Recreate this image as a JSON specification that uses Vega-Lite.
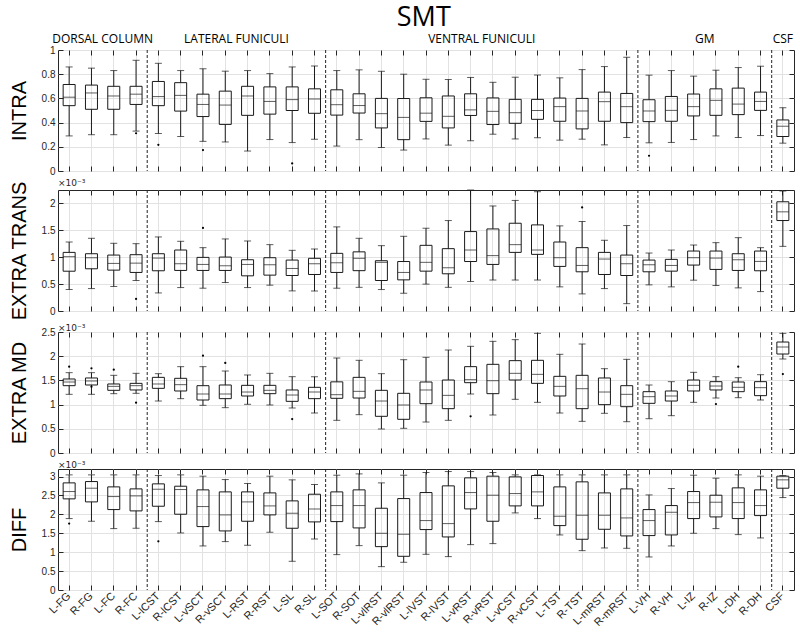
{
"$schema": "https://vega.github.io/schema/vega-lite/v6.json",
"background": "white",
"padding": {"left": 8, "top": 3, "right": 0, "bottom": 0},
"title": {"text": "SMT", "anchor": "middle", "fontSize": 27, "font": "Open Sans", "fontWeight": "normal", "color": "#000", "dx": 22, "offset": 1},
"spacing": 1,
"datasets": {
"boxes": [
{"measure":"INTRA","region":"L-FG","lower":0.29,"q1":0.54,"median":0.61,"q3":0.715,"upper":0.86},
{"measure":"INTRA","region":"R-FG","lower":0.30,"q1":0.51,"median":0.645,"q3":0.71,"upper":0.85},
{"measure":"INTRA","region":"L-FC","lower":0.30,"q1":0.51,"median":0.62,"q3":0.70,"upper":0.83},
{"measure":"INTRA","region":"R-FC","lower":0.33,"q1":0.55,"median":0.635,"q3":0.70,"upper":0.915},
{"measure":"INTRA","region":"L-lCST","lower":0.31,"q1":0.54,"median":0.615,"q3":0.74,"upper":0.89},
{"measure":"INTRA","region":"R-lCST","lower":0.285,"q1":0.495,"median":0.625,"q3":0.73,"upper":0.83},
{"measure":"INTRA","region":"L-vSCT","lower":0.245,"q1":0.45,"median":0.55,"q3":0.635,"upper":0.845},
{"measure":"INTRA","region":"R-vSCT","lower":0.24,"q1":0.385,"median":0.545,"q3":0.66,"upper":0.825},
{"measure":"INTRA","region":"L-RST","lower":0.165,"q1":0.46,"median":0.62,"q3":0.70,"upper":0.83},
{"measure":"INTRA","region":"R-RST","lower":0.26,"q1":0.47,"median":0.575,"q3":0.695,"upper":0.805},
{"measure":"INTRA","region":"L-SL","lower":0.235,"q1":0.50,"median":0.59,"q3":0.695,"upper":0.86},
{"measure":"INTRA","region":"R-SL","lower":0.263,"q1":0.477,"median":0.595,"q3":0.679,"upper":0.868},
{"measure":"INTRA","region":"L-SOT","lower":0.206,"q1":0.462,"median":0.548,"q3":0.671,"upper":0.83},
{"measure":"INTRA","region":"R-SOT","lower":0.259,"q1":0.479,"median":0.541,"q3":0.638,"upper":0.836},
{"measure":"INTRA","region":"L-vlRST","lower":0.194,"q1":0.356,"median":0.474,"q3":0.60,"upper":0.824},
{"measure":"INTRA","region":"R-vlRST","lower":0.173,"q1":0.259,"median":0.443,"q3":0.599,"upper":0.80},
{"measure":"INTRA","region":"L-lVST","lower":0.265,"q1":0.41,"median":0.478,"q3":0.605,"upper":0.758},
{"measure":"INTRA","region":"R-lVST","lower":0.214,"q1":0.356,"median":0.452,"q3":0.62,"upper":0.756},
{"measure":"INTRA","region":"L-vRST","lower":0.25,"q1":0.459,"median":0.505,"q3":0.638,"upper":0.773},
{"measure":"INTRA","region":"R-vRST","lower":0.304,"q1":0.384,"median":0.493,"q3":0.604,"upper":0.733},
{"measure":"INTRA","region":"L-vCST","lower":0.265,"q1":0.394,"median":0.482,"q3":0.592,"upper":0.775},
{"measure":"INTRA","region":"R-vCST","lower":0.275,"q1":0.427,"median":0.50,"q3":0.592,"upper":0.793},
{"measure":"INTRA","region":"L-TST","lower":0.255,"q1":0.411,"median":0.532,"q3":0.603,"upper":0.77},
{"measure":"INTRA","region":"R-TST","lower":0.263,"q1":0.348,"median":0.496,"q3":0.60,"upper":0.838},
{"measure":"INTRA","region":"L-mRST","lower":0.216,"q1":0.411,"median":0.573,"q3":0.652,"upper":0.863},
{"measure":"INTRA","region":"R-mRST","lower":0.277,"q1":0.40,"median":0.532,"q3":0.641,"upper":0.94},
{"measure":"INTRA","region":"L-VH","lower":0.233,"q1":0.408,"median":0.496,"q3":0.589,"upper":0.792},
{"measure":"INTRA","region":"R-VH","lower":0.236,"q1":0.411,"median":0.501,"q3":0.616,"upper":0.83},
{"measure":"INTRA","region":"L-IZ","lower":0.26,"q1":0.455,"median":0.532,"q3":0.636,"upper":0.784},
{"measure":"INTRA","region":"R-IZ","lower":0.29,"q1":0.46,"median":0.584,"q3":0.679,"upper":0.833},
{"measure":"INTRA","region":"L-DH","lower":0.277,"q1":0.466,"median":0.553,"q3":0.685,"upper":0.855},
{"measure":"INTRA","region":"R-DH","lower":0.293,"q1":0.501,"median":0.575,"q3":0.652,"upper":0.866},
{"measure":"INTRA","region":"CSF","lower":0.23,"q1":0.285,"median":0.37,"q3":0.422,"upper":0.523},
{"measure":"TRANS","region":"L-FG","lower":0.40,"q1":0.74,"median":1.01,"q3":1.09,"upper":1.283},
{"measure":"TRANS","region":"R-FG","lower":0.417,"q1":0.785,"median":0.99,"q3":1.065,"upper":1.352},
{"measure":"TRANS","region":"L-FC","lower":0.455,"q1":0.76,"median":0.885,"q3":1.04,"upper":1.259},
{"measure":"TRANS","region":"R-FC","lower":0.567,"q1":0.717,"median":0.89,"q3":1.047,"upper":1.252},
{"measure":"TRANS","region":"L-lCST","lower":0.336,"q1":0.748,"median":0.984,"q3":1.065,"upper":1.377},
{"measure":"TRANS","region":"R-lCST","lower":0.436,"q1":0.754,"median":0.879,"q3":1.134,"upper":1.296},
{"measure":"TRANS","region":"L-vSCT","lower":0.424,"q1":0.754,"median":0.866,"q3":0.997,"upper":1.178},
{"measure":"TRANS","region":"R-vSCT","lower":0.53,"q1":0.754,"median":0.841,"q3":1.003,"upper":1.34},
{"measure":"TRANS","region":"L-RST","lower":0.436,"q1":0.654,"median":0.866,"q3":0.953,"upper":1.302},
{"measure":"TRANS","region":"R-RST","lower":0.48,"q1":0.667,"median":0.86,"q3":0.991,"upper":1.234},
{"measure":"TRANS","region":"L-SL","lower":0.374,"q1":0.66,"median":0.791,"q3":0.947,"upper":1.128},
{"measure":"TRANS","region":"R-SL","lower":0.37,"q1":0.679,"median":0.879,"q3":0.98,"upper":1.153},
{"measure":"TRANS","region":"L-SOT","lower":0.424,"q1":0.717,"median":0.897,"q3":1.072,"upper":1.564},
{"measure":"TRANS","region":"R-SOT","lower":0.44,"q1":0.75,"median":0.98,"q3":1.10,"upper":1.352},
{"measure":"TRANS","region":"L-vlRST","lower":0.399,"q1":0.567,"median":0.905,"q3":0.935,"upper":1.215},
{"measure":"TRANS","region":"R-vlRST","lower":0.33,"q1":0.579,"median":0.717,"q3":0.92,"upper":1.389},
{"measure":"TRANS","region":"L-lVST","lower":0.50,"q1":0.741,"median":0.905,"q3":1.221,"upper":1.539},
{"measure":"TRANS","region":"R-lVST","lower":0.44,"q1":0.692,"median":0.804,"q3":1.159,"upper":1.682},
{"measure":"TRANS","region":"L-vRST","lower":0.548,"q1":0.92,"median":1.134,"q3":1.477,"upper":2.25},
{"measure":"TRANS","region":"R-vRST","lower":0.576,"q1":0.866,"median":1.03,"q3":1.526,"upper":1.953},
{"measure":"TRANS","region":"L-vCST","lower":0.576,"q1":1.09,"median":1.234,"q3":1.632,"upper":2.056},
{"measure":"TRANS","region":"R-vCST","lower":0.576,"q1":1.053,"median":1.134,"q3":1.601,"upper":2.218},
{"measure":"TRANS","region":"L-TST","lower":0.449,"q1":0.829,"median":0.991,"q3":1.283,"upper":1.583},
{"measure":"TRANS","region":"R-TST","lower":0.318,"q1":0.729,"median":0.847,"q3":1.178,"upper":1.664},
{"measure":"TRANS","region":"L-mRST","lower":0.417,"q1":0.679,"median":0.966,"q3":1.09,"upper":1.315},
{"measure":"TRANS","region":"R-mRST","lower":0.137,"q1":0.66,"median":0.879,"q3":1.04,"upper":1.589},
{"measure":"TRANS","region":"L-VH","lower":0.486,"q1":0.729,"median":0.86,"q3":0.947,"upper":1.078},
{"measure":"TRANS","region":"R-VH","lower":0.449,"q1":0.741,"median":0.847,"q3":0.96,"upper":1.134},
{"measure":"TRANS","region":"L-IZ","lower":0.573,"q1":0.854,"median":0.991,"q3":1.115,"upper":1.227},
{"measure":"TRANS","region":"R-IZ","lower":0.474,"q1":0.773,"median":0.984,"q3":1.115,"upper":1.271},
{"measure":"TRANS","region":"L-DH","lower":0.43,"q1":0.754,"median":0.953,"q3":1.065,"upper":1.364},
{"measure":"TRANS","region":"R-DH","lower":0.361,"q1":0.748,"median":0.922,"q3":1.115,"upper":1.178},
{"measure":"TRANS","region":"CSF","lower":1.202,"q1":1.682,"median":1.844,"q3":2.031,"upper":2.231},
{"measure":"MD","region":"L-FG","lower":1.212,"q1":1.391,"median":1.467,"q3":1.529,"upper":1.66},
{"measure":"MD","region":"R-FG","lower":1.212,"q1":1.405,"median":1.488,"q3":1.55,"upper":1.66},
{"measure":"MD","region":"L-FC","lower":1.226,"q1":1.295,"median":1.377,"q3":1.426,"upper":1.605},
{"measure":"MD","region":"R-FC","lower":1.233,"q1":1.302,"median":1.391,"q3":1.439,"upper":1.646},
{"measure":"MD","region":"L-lCST","lower":1.074,"q1":1.336,"median":1.426,"q3":1.563,"upper":1.639},
{"measure":"MD","region":"R-lCST","lower":1.123,"q1":1.281,"median":1.412,"q3":1.543,"upper":1.784},
{"measure":"MD","region":"L-vSCT","lower":0.985,"q1":1.095,"median":1.219,"q3":1.391,"upper":1.784},
{"measure":"MD","region":"R-vSCT","lower":0.937,"q1":1.123,"median":1.219,"q3":1.405,"upper":1.694},
{"measure":"MD","region":"L-RST","lower":1.006,"q1":1.178,"median":1.26,"q3":1.398,"upper":1.612},
{"measure":"MD","region":"R-RST","lower":0.992,"q1":1.226,"median":1.295,"q3":1.398,"upper":1.646},
{"measure":"MD","region":"L-SL","lower":0.93,"q1":1.067,"median":1.198,"q3":1.302,"upper":1.577},
{"measure":"MD","region":"R-SL","lower":0.826,"q1":1.123,"median":1.26,"q3":1.357,"upper":1.577},
{"measure":"MD","region":"L-SOT","lower":0.675,"q1":1.13,"median":1.205,"q3":1.47,"upper":1.963},
{"measure":"MD","region":"R-SOT","lower":0.792,"q1":1.136,"median":1.274,"q3":1.563,"upper":1.915},
{"measure":"MD","region":"L-vlRST","lower":0.496,"q1":0.758,"median":1.074,"q3":1.295,"upper":1.639},
{"measure":"MD","region":"R-vlRST","lower":0.51,"q1":0.696,"median":0.992,"q3":1.233,"upper":1.928},
{"measure":"MD","region":"L-lVST","lower":0.64,"q1":1.019,"median":1.302,"q3":1.467,"upper":1.977},
{"measure":"MD","region":"R-lVST","lower":0.675,"q1":0.916,"median":1.191,"q3":1.508,"upper":2.128},
{"measure":"MD","region":"L-vRST","lower":1.219,"q1":1.453,"median":1.515,"q3":1.784,"upper":2.204},
{"measure":"MD","region":"R-vRST","lower":0.785,"q1":1.226,"median":1.494,"q3":1.832,"upper":2.307},
{"measure":"MD","region":"L-vCST","lower":1.109,"q1":1.508,"median":1.646,"q3":1.908,"upper":2.342},
{"measure":"MD","region":"R-vCST","lower":1.047,"q1":1.439,"median":1.625,"q3":1.915,"upper":2.472},
{"measure":"MD","region":"L-TST","lower":0.826,"q1":1.178,"median":1.377,"q3":1.584,"upper":2.039},
{"measure":"MD","region":"R-TST","lower":0.654,"q1":0.916,"median":1.329,"q3":1.605,"upper":2.252},
{"measure":"MD","region":"L-mRST","lower":0.82,"q1":0.999,"median":1.26,"q3":1.55,"upper":1.742},
{"measure":"MD","region":"R-mRST","lower":0.647,"q1":0.957,"median":1.212,"q3":1.391,"upper":1.935},
{"measure":"MD","region":"L-VH","lower":0.709,"q1":1.026,"median":1.164,"q3":1.267,"upper":1.405},
{"measure":"MD","region":"R-VH","lower":0.771,"q1":1.074,"median":1.178,"q3":1.281,"upper":1.474},
{"measure":"MD","region":"L-IZ","lower":1.047,"q1":1.281,"median":1.398,"q3":1.508,"upper":1.667},
{"measure":"MD","region":"R-IZ","lower":1.136,"q1":1.302,"median":1.384,"q3":1.474,"upper":1.577},
{"measure":"MD","region":"L-DH","lower":1.143,"q1":1.267,"median":1.357,"q3":1.467,"upper":1.556},
{"measure":"MD","region":"R-DH","lower":1.095,"q1":1.185,"median":1.35,"q3":1.474,"upper":1.618},
{"measure":"MD","region":"CSF","lower":1.942,"q1":2.045,"median":2.19,"q3":2.293,"upper":2.472},
{"measure":"DIFF","region":"L-FG","lower":1.889,"q1":2.41,"median":2.604,"q3":2.833,"upper":3.045},
{"measure":"DIFF","region":"R-FG","lower":1.818,"q1":2.33,"median":2.692,"q3":2.868,"upper":3.045},
{"measure":"DIFF","region":"L-FC","lower":1.624,"q1":2.127,"median":2.471,"q3":2.727,"upper":3.045},
{"measure":"DIFF","region":"R-FC","lower":1.633,"q1":2.092,"median":2.489,"q3":2.674,"upper":3.045},
{"measure":"DIFF","region":"L-lCST","lower":1.809,"q1":2.215,"median":2.665,"q3":2.807,"upper":3.027},
{"measure":"DIFF","region":"R-lCST","lower":1.509,"q1":2.004,"median":2.657,"q3":2.745,"upper":3.045},
{"measure":"DIFF","region":"L-vSCT","lower":1.165,"q1":1.677,"median":2.207,"q3":2.648,"upper":3.01},
{"measure":"DIFF","region":"R-vSCT","lower":1.28,"q1":1.562,"median":1.986,"q3":2.595,"upper":2.921},
{"measure":"DIFF","region":"L-RST","lower":1.183,"q1":1.818,"median":2.33,"q3":2.595,"upper":2.816},
{"measure":"DIFF","region":"R-RST","lower":1.527,"q1":1.986,"median":2.224,"q3":2.568,"upper":3.01},
{"measure":"DIFF","region":"L-SL","lower":0.759,"q1":1.633,"median":2.03,"q3":2.357,"upper":2.913},
{"measure":"DIFF","region":"R-SL","lower":1.35,"q1":1.801,"median":2.145,"q3":2.533,"upper":2.789},
{"measure":"DIFF","region":"L-SOT","lower":0.936,"q1":1.809,"median":2.233,"q3":2.595,"upper":3.036},
{"measure":"DIFF","region":"R-SOT","lower":1.174,"q1":1.642,"median":2.233,"q3":2.648,"upper":3.071},
{"measure":"DIFF","region":"L-vlRST","lower":0.618,"q1":1.147,"median":1.5,"q3":2.162,"upper":2.833},
{"measure":"DIFF","region":"R-vlRST","lower":0.733,"q1":0.891,"median":1.474,"q3":2.418,"upper":3.036},
{"measure":"DIFF","region":"L-lVST","lower":0.944,"q1":1.598,"median":1.836,"q3":2.577,"upper":3.107},
{"measure":"DIFF","region":"R-lVST","lower":0.883,"q1":1.403,"median":1.756,"q3":2.754,"upper":3.133},
{"measure":"DIFF","region":"L-vRST","lower":1.2,"q1":2.145,"median":2.577,"q3":2.966,"upper":3.133},
{"measure":"DIFF","region":"R-vRST","lower":1.227,"q1":1.818,"median":2.507,"q3":3.01,"upper":3.107},
{"measure":"DIFF","region":"L-vCST","lower":2.039,"q1":2.224,"median":2.551,"q3":2.992,"upper":3.045},
{"measure":"DIFF","region":"R-vCST","lower":1.889,"q1":2.224,"median":2.595,"q3":3.027,"upper":3.045},
{"measure":"DIFF","region":"L-TST","lower":1.456,"q1":1.703,"median":1.951,"q3":2.727,"upper":3.045},
{"measure":"DIFF","region":"R-TST","lower":1.041,"q1":1.342,"median":1.977,"q3":2.86,"upper":3.045},
{"measure":"DIFF","region":"L-mRST","lower":1.112,"q1":1.606,"median":1.977,"q3":2.568,"upper":3.045},
{"measure":"DIFF","region":"R-mRST","lower":1.103,"q1":1.43,"median":1.906,"q3":2.674,"upper":3.045},
{"measure":"DIFF","region":"L-VH","lower":0.874,"q1":1.439,"median":1.836,"q3":2.127,"upper":2.515},
{"measure":"DIFF","region":"R-VH","lower":1.165,"q1":1.456,"median":2.056,"q3":2.233,"upper":2.683},
{"measure":"DIFF","region":"L-IZ","lower":1.5,"q1":1.889,"median":2.312,"q3":2.604,"upper":3.036},
{"measure":"DIFF","region":"R-IZ","lower":1.624,"q1":1.933,"median":2.321,"q3":2.507,"upper":2.957},
{"measure":"DIFF","region":"L-DH","lower":1.465,"q1":1.889,"median":2.312,"q3":2.701,"upper":3.045},
{"measure":"DIFF","region":"R-DH","lower":1.377,"q1":1.968,"median":2.233,"q3":2.648,"upper":3.01},
{"measure":"DIFF","region":"CSF","lower":2.445,"q1":2.692,"median":2.913,"q3":3.01,"upper":3.027}
],
"outliers": [
{"measure":"INTRA","region":"R-FC","value":0.312},
{"measure":"INTRA","region":"L-lCST","value":0.216},
{"measure":"INTRA","region":"L-vSCT","value":0.173},
{"measure":"INTRA","region":"L-SL","value":0.063},
{"measure":"INTRA","region":"L-VH","value":0.126},
{"measure":"TRANS","region":"R-FC","value":0.224},
{"measure":"TRANS","region":"L-vSCT","value":1.545},
{"measure":"TRANS","region":"R-TST","value":1.925},
{"measure":"MD","region":"L-FG","value":1.784},
{"measure":"MD","region":"R-FG","value":1.749},
{"measure":"MD","region":"R-FG","value":1.37},
{"measure":"MD","region":"L-FC","value":1.722},
{"measure":"MD","region":"R-FC","value":1.04},
{"measure":"MD","region":"L-vSCT","value":2.011},
{"measure":"MD","region":"R-vSCT","value":1.86},
{"measure":"MD","region":"L-SL","value":0.702},
{"measure":"MD","region":"L-vRST","value":0.758},
{"measure":"MD","region":"R-IZ","value":1.012},
{"measure":"MD","region":"L-DH","value":1.784},
{"measure":"MD","region":"CSF","value":1.632},
{"measure":"DIFF","region":"L-FG","value":1.756},
{"measure":"DIFF","region":"L-lCST","value":1.289}
],
"separators": [{"after":"R-FC"},{"after":"R-SL"},{"after":"R-mRST"},{"after":"R-DH"}],
"groups": [
{"group":"DORSAL COLUMN","anchor":"R-FG"},
{"group":"LATERAL FUNICULI","anchor":"R-vSCT"},
{"group":"VENTRAL FUNICULI","anchor":"L-vRST"},
{"group":"GM","anchor":"L-IZ"},
{"group":"CSF","anchor":"CSF"}
]
},
"vconcat": [
{
"width": 736, "height": 121,
"data": {"name": "boxes"},
"transform": [{"filter": "datum.measure === 'INTRA'"}],
"resolve": {"axis": {"x": "independent", "y": "independent"}},
"layer": [
{"mark": {"type": "rule", "color": "#1a1a1a"}, "encoding": {
 "x": {"field": "region", "type": "nominal", "bandPosition": 0.5, "scale": {"type": "band", "domain": ["L-FG","R-FG","L-FC","R-FC","L-lCST","R-lCST","L-vSCT","R-vSCT","L-RST","R-RST","L-SL","R-SL","L-SOT","R-SOT","L-vlRST","R-vlRST","L-lVST","R-lVST","L-vRST","R-vRST","L-vCST","R-vCST","L-TST","R-TST","L-mRST","R-mRST","L-VH","R-VH","L-IZ","R-IZ","L-DH","R-DH","CSF"], "paddingInner": 0, "paddingOuter": 0}, "axis": {"title": null, "labels": false, "labelPadding": 0, "grid": true, "bandPosition": 0.5}},
 "y": {"field": "lower", "type": "quantitative", "scale": {"domain": [0, 1], "nice": false, "zero": false}, "axis": {"values": [0, 0.2, 0.4, 0.6, 0.8, 1], "format": "~g", "title": "INTRA"}},
 "y2": {"field": "q1"}}},
{"mark": {"type": "rule", "color": "#1a1a1a"}, "encoding": {
 "x": {"field": "region", "type": "nominal", "bandPosition": 0.5, "axis": null},
 "y": {"field": "q3", "type": "quantitative", "axis": null}, "y2": {"field": "upper"}}},
{"mark": {"type": "bar", "width": 12, "fillOpacity": 0, "stroke": "#1a1a1a", "strokeWidth": 1}, "encoding": {
 "x": {"field": "region", "type": "nominal", "axis": null},
 "y": {"field": "q1", "type": "quantitative", "axis": null}, "y2": {"field": "q3"}}},
{"mark": {"type": "tick", "size": 12, "thickness": 1, "color": "#1a1a1a"}, "encoding": {
 "x": {"field": "region", "type": "nominal", "bandPosition": 0.5, "axis": null},
 "y": {"field": "median", "type": "quantitative", "axis": null}}},
{"mark": {"type": "tick", "size": 7, "thickness": 1, "color": "#1a1a1a"}, "encoding": {
 "x": {"field": "region", "type": "nominal", "bandPosition": 0.5, "axis": {"orient": "top", "labels": false, "labelPadding": 0, "grid": false, "title": null, "bandPosition": 0.5}},
 "y": {"field": "upper", "type": "quantitative", "axis": {"orient": "right", "labels": false, "labelPadding": 0, "grid": false, "title": null, "values": [0, 0.2, 0.4, 0.6, 0.8, 1]}}}},
{"mark": {"type": "tick", "size": 7, "thickness": 1, "color": "#1a1a1a"}, "encoding": {
 "x": {"field": "region", "type": "nominal", "bandPosition": 0.5, "axis": null},
 "y": {"field": "lower", "type": "quantitative", "axis": null}}},
{"data": {"name": "outliers"}, "transform": [{"filter": "datum.measure === 'INTRA'"}],
 "mark": {"type": "point", "filled": true, "size": 5, "color": "#000", "opacity": 1}, "encoding": {
 "x": {"field": "region", "type": "nominal", "bandPosition": 0.5, "axis": null},
 "y": {"field": "value", "type": "quantitative", "axis": null}}},
{"data": {"name": "separators"},
 "mark": {"type": "rule", "color": "#222", "strokeDash": [3, 2]}, "encoding": {
 "x": {"field": "after", "type": "nominal", "bandPosition": 1, "axis": null}}},
{"data": {"name": "groups"}, "transform": [{"filter": "datum.group !== 'CSF'"}],
 "mark": {"type": "text", "font": "Open Sans", "fontSize": 12, "color": "#000", "baseline": "alphabetic", "dy": -7},
 "encoding": {
 "x": {"field": "anchor", "type": "nominal", "bandPosition": 1, "axis": null},
 "y": {"datum": 1, "type": "quantitative", "axis": null},
 "text": {"field": "group"}}},
{"data": {"name": "groups"}, "transform": [{"filter": "datum.group === 'CSF'"}],
 "mark": {"type": "text", "font": "Open Sans", "fontSize": 12, "color": "#000", "baseline": "alphabetic", "dy": -7},
 "encoding": {
 "x": {"field": "anchor", "type": "nominal", "bandPosition": 0.5, "axis": null},
 "y": {"datum": 1, "type": "quantitative", "axis": null},
 "text": {"field": "group"}}}
]
},
{
"width": 736, "height": 121,
"title": {"text": "×10⁻³", "anchor": "start", "frame": "group", "fontSize": 9, "font": "DejaVu Sans", "fontWeight": "normal", "color": "#262626", "offset": -8},
"data": {"name": "boxes"},
"transform": [{"filter": "datum.measure === 'TRANS'"}],
"resolve": {"axis": {"x": "independent", "y": "independent"}},
"layer": [
{"mark": {"type": "rule", "color": "#1a1a1a"}, "encoding": {
 "x": {"field": "region", "type": "nominal", "bandPosition": 0.5, "scale": {"type": "band", "domain": ["L-FG","R-FG","L-FC","R-FC","L-lCST","R-lCST","L-vSCT","R-vSCT","L-RST","R-RST","L-SL","R-SL","L-SOT","R-SOT","L-vlRST","R-vlRST","L-lVST","R-lVST","L-vRST","R-vRST","L-vCST","R-vCST","L-TST","R-TST","L-mRST","R-mRST","L-VH","R-VH","L-IZ","R-IZ","L-DH","R-DH","CSF"], "paddingInner": 0, "paddingOuter": 0}, "axis": {"title": null, "labels": false, "labelPadding": 0, "grid": true, "bandPosition": 0.5}},
 "y": {"field": "lower", "type": "quantitative", "scale": {"domain": [0, 2.25], "nice": false, "zero": false}, "axis": {"values": [0, 0.5, 1, 1.5, 2], "format": "~g", "title": "EXTRA TRANS"}},
 "y2": {"field": "q1"}}},
{"mark": {"type": "rule", "color": "#1a1a1a"}, "encoding": {
 "x": {"field": "region", "type": "nominal", "bandPosition": 0.5, "axis": null},
 "y": {"field": "q3", "type": "quantitative", "axis": null}, "y2": {"field": "upper"}}},
{"mark": {"type": "bar", "width": 12, "fillOpacity": 0, "stroke": "#1a1a1a", "strokeWidth": 1}, "encoding": {
 "x": {"field": "region", "type": "nominal", "axis": null},
 "y": {"field": "q1", "type": "quantitative", "axis": null}, "y2": {"field": "q3"}}},
{"mark": {"type": "tick", "size": 12, "thickness": 1, "color": "#1a1a1a"}, "encoding": {
 "x": {"field": "region", "type": "nominal", "bandPosition": 0.5, "axis": null},
 "y": {"field": "median", "type": "quantitative", "axis": null}}},
{"mark": {"type": "tick", "size": 7, "thickness": 1, "color": "#1a1a1a"}, "encoding": {
 "x": {"field": "region", "type": "nominal", "bandPosition": 0.5, "axis": {"orient": "top", "labels": false, "labelPadding": 0, "grid": false, "title": null, "bandPosition": 0.5}},
 "y": {"field": "upper", "type": "quantitative", "axis": {"orient": "right", "labels": false, "labelPadding": 0, "grid": false, "title": null, "values": [0, 0.5, 1, 1.5, 2]}}}},
{"mark": {"type": "tick", "size": 7, "thickness": 1, "color": "#1a1a1a"}, "encoding": {
 "x": {"field": "region", "type": "nominal", "bandPosition": 0.5, "axis": null},
 "y": {"field": "lower", "type": "quantitative", "axis": null}}},
{"data": {"name": "outliers"}, "transform": [{"filter": "datum.measure === 'TRANS'"}],
 "mark": {"type": "point", "filled": true, "size": 5, "color": "#000", "opacity": 1}, "encoding": {
 "x": {"field": "region", "type": "nominal", "bandPosition": 0.5, "axis": null},
 "y": {"field": "value", "type": "quantitative", "axis": null}}},
{"data": {"name": "separators"},
 "mark": {"type": "rule", "color": "#222", "strokeDash": [3, 2]}, "encoding": {
 "x": {"field": "after", "type": "nominal", "bandPosition": 1, "axis": null}}}
]
},
{
"width": 736, "height": 121,
"title": {"text": "×10⁻³", "anchor": "start", "frame": "group", "fontSize": 9, "font": "DejaVu Sans", "fontWeight": "normal", "color": "#262626", "offset": -6},
"data": {"name": "boxes"},
"transform": [{"filter": "datum.measure === 'MD'"}],
"resolve": {"axis": {"x": "independent", "y": "independent"}},
"layer": [
{"mark": {"type": "rule", "color": "#1a1a1a"}, "encoding": {
 "x": {"field": "region", "type": "nominal", "bandPosition": 0.5, "scale": {"type": "band", "domain": ["L-FG","R-FG","L-FC","R-FC","L-lCST","R-lCST","L-vSCT","R-vSCT","L-RST","R-RST","L-SL","R-SL","L-SOT","R-SOT","L-vlRST","R-vlRST","L-lVST","R-lVST","L-vRST","R-vRST","L-vCST","R-vCST","L-TST","R-TST","L-mRST","R-mRST","L-VH","R-VH","L-IZ","R-IZ","L-DH","R-DH","CSF"], "paddingInner": 0, "paddingOuter": 0}, "axis": {"title": null, "labels": false, "labelPadding": 0, "grid": true, "bandPosition": 0.5}},
 "y": {"field": "lower", "type": "quantitative", "scale": {"domain": [0, 2.5], "nice": false, "zero": false}, "axis": {"values": [0, 0.5, 1, 1.5, 2, 2.5], "format": "~g", "title": "EXTRA MD"}},
 "y2": {"field": "q1"}}},
{"mark": {"type": "rule", "color": "#1a1a1a"}, "encoding": {
 "x": {"field": "region", "type": "nominal", "bandPosition": 0.5, "axis": null},
 "y": {"field": "q3", "type": "quantitative", "axis": null}, "y2": {"field": "upper"}}},
{"mark": {"type": "bar", "width": 12, "fillOpacity": 0, "stroke": "#1a1a1a", "strokeWidth": 1}, "encoding": {
 "x": {"field": "region", "type": "nominal", "axis": null},
 "y": {"field": "q1", "type": "quantitative", "axis": null}, "y2": {"field": "q3"}}},
{"mark": {"type": "tick", "size": 12, "thickness": 1, "color": "#1a1a1a"}, "encoding": {
 "x": {"field": "region", "type": "nominal", "bandPosition": 0.5, "axis": null},
 "y": {"field": "median", "type": "quantitative", "axis": null}}},
{"mark": {"type": "tick", "size": 7, "thickness": 1, "color": "#1a1a1a"}, "encoding": {
 "x": {"field": "region", "type": "nominal", "bandPosition": 0.5, "axis": {"orient": "top", "labels": false, "labelPadding": 0, "grid": false, "title": null, "bandPosition": 0.5}},
 "y": {"field": "upper", "type": "quantitative", "axis": {"orient": "right", "labels": false, "labelPadding": 0, "grid": false, "title": null, "values": [0, 0.5, 1, 1.5, 2, 2.5]}}}},
{"mark": {"type": "tick", "size": 7, "thickness": 1, "color": "#1a1a1a"}, "encoding": {
 "x": {"field": "region", "type": "nominal", "bandPosition": 0.5, "axis": null},
 "y": {"field": "lower", "type": "quantitative", "axis": null}}},
{"data": {"name": "outliers"}, "transform": [{"filter": "datum.measure === 'MD'"}],
 "mark": {"type": "point", "filled": true, "size": 5, "color": "#000", "opacity": 1}, "encoding": {
 "x": {"field": "region", "type": "nominal", "bandPosition": 0.5, "axis": null},
 "y": {"field": "value", "type": "quantitative", "axis": null}}},
{"data": {"name": "separators"},
 "mark": {"type": "rule", "color": "#222", "strokeDash": [3, 2]}, "encoding": {
 "x": {"field": "after", "type": "nominal", "bandPosition": 1, "axis": null}}}
]
},
{
"width": 736, "height": 121,
"title": {"text": "×10⁻³", "anchor": "start", "frame": "group", "fontSize": 9, "font": "DejaVu Sans", "fontWeight": "normal", "color": "#262626", "offset": -1},
"data": {"name": "boxes"},
"transform": [{"filter": "datum.measure === 'DIFF'"}],
"resolve": {"axis": {"x": "independent", "y": "independent"}},
"layer": [
{"mark": {"type": "rule", "color": "#1a1a1a"}, "encoding": {
 "x": {"field": "region", "type": "nominal", "bandPosition": 0.5, "scale": {"type": "band", "domain": ["L-FG","R-FG","L-FC","R-FC","L-lCST","R-lCST","L-vSCT","R-vSCT","L-RST","R-RST","L-SL","R-SL","L-SOT","R-SOT","L-vlRST","R-vlRST","L-lVST","R-lVST","L-vRST","R-vRST","L-vCST","R-vCST","L-TST","R-TST","L-mRST","R-mRST","L-VH","R-VH","L-IZ","R-IZ","L-DH","R-DH","CSF"], "paddingInner": 0, "paddingOuter": 0}, "axis": {"title": null, "grid": true, "bandPosition": 0.5, "labelAngle": -45, "labelAlign": "right", "labelBaseline": "middle", "labelFontSize": 11, "labelPadding": 9}},
 "y": {"field": "lower", "type": "quantitative", "scale": {"domain": [0, 3.2], "nice": false, "zero": false}, "axis": {"values": [0, 0.5, 1, 1.5, 2, 2.5, 3], "format": "~g", "title": "DIFF"}},
 "y2": {"field": "q1"}}},
{"mark": {"type": "rule", "color": "#1a1a1a"}, "encoding": {
 "x": {"field": "region", "type": "nominal", "bandPosition": 0.5, "axis": null},
 "y": {"field": "q3", "type": "quantitative", "axis": null}, "y2": {"field": "upper"}}},
{"mark": {"type": "bar", "width": 12, "fillOpacity": 0, "stroke": "#1a1a1a", "strokeWidth": 1}, "encoding": {
 "x": {"field": "region", "type": "nominal", "axis": null},
 "y": {"field": "q1", "type": "quantitative", "axis": null}, "y2": {"field": "q3"}}},
{"mark": {"type": "tick", "size": 12, "thickness": 1, "color": "#1a1a1a"}, "encoding": {
 "x": {"field": "region", "type": "nominal", "bandPosition": 0.5, "axis": null},
 "y": {"field": "median", "type": "quantitative", "axis": null}}},
{"mark": {"type": "tick", "size": 7, "thickness": 1, "color": "#1a1a1a"}, "encoding": {
 "x": {"field": "region", "type": "nominal", "bandPosition": 0.5, "axis": {"orient": "top", "labels": false, "labelPadding": 0, "grid": false, "title": null, "bandPosition": 0.5}},
 "y": {"field": "upper", "type": "quantitative", "axis": {"orient": "right", "labels": false, "labelPadding": 0, "grid": false, "title": null, "values": [0, 0.5, 1, 1.5, 2, 2.5, 3]}}}},
{"mark": {"type": "tick", "size": 7, "thickness": 1, "color": "#1a1a1a"}, "encoding": {
 "x": {"field": "region", "type": "nominal", "bandPosition": 0.5, "axis": null},
 "y": {"field": "lower", "type": "quantitative", "axis": null}}},
{"data": {"name": "outliers"}, "transform": [{"filter": "datum.measure === 'DIFF'"}],
 "mark": {"type": "point", "filled": true, "size": 5, "color": "#000", "opacity": 1}, "encoding": {
 "x": {"field": "region", "type": "nominal", "bandPosition": 0.5, "axis": null},
 "y": {"field": "value", "type": "quantitative", "axis": null}}},
{"data": {"name": "separators"},
 "mark": {"type": "rule", "color": "#222", "strokeDash": [3, 2]}, "encoding": {
 "x": {"field": "after", "type": "nominal", "bandPosition": 1, "axis": null}}}
]
}
],
"config": {
 "view": {"stroke": "#262626", "strokeWidth": 1},
 "axis": {"domain": false, "grid": true, "gridColor": "#e2e2e2", "gridWidth": 1, "tickColor": "#262626", "tickSize": -5, "labelPadding": 8, "minExtent": 0, "labelFont": "Liberation Sans", "labelFontSize": 10, "labelColor": "#262626", "titleFont": "Liberation Sans", "titleFontWeight": "normal", "titleFontSize": 20, "titleColor": "#000", "titlePadding": 12}
}
}
